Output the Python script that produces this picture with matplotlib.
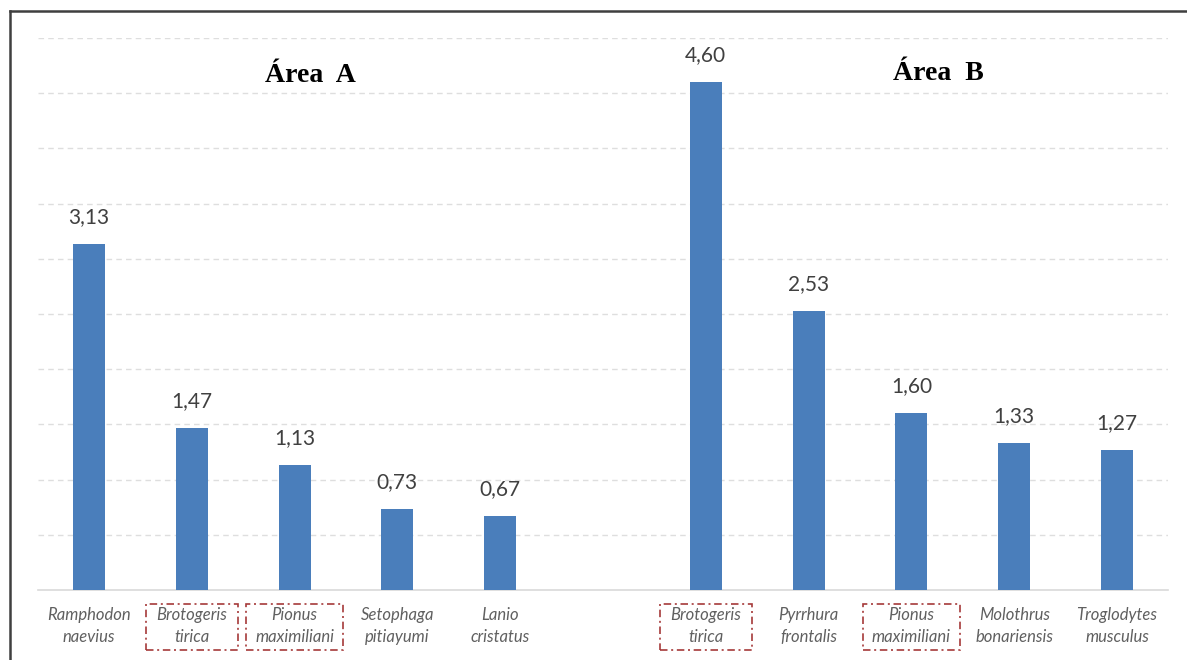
import matplotlib
matplotlib.use("Agg")
import matplotlib.pyplot as plt
import matplotlib.transforms as mtransforms
from matplotlib.patches import Rectangle
from matplotlib.lines import Line2D

# ---- data ----
area_a_species = ["Ramphodon\nnaevius", "Brotogeris\ntirica", "Pionus\nmaximiliani",
                  "Setophaga\npitiayumi", "Lanio\ncristatus"]
area_a_values = [3.13, 1.47, 1.13, 0.73, 0.67]
area_a_boxed = [False, True, True, False, False]

area_b_species = ["Brotogeris\ntirica", "Pyrrhura\nfrontalis", "Pionus\nmaximiliani",
                  "Molothrus\nbonariensis", "Troglodytes\nmusculus"]
area_b_values = [4.60, 2.53, 1.60, 1.33, 1.27]
area_b_boxed = [True, False, True, False, False]

titles = ["Área  A", "Área  B"]
y_ticks = [0.5, 1.0, 1.5, 2.0, 2.5, 3.0, 3.5, 4.0, 4.5, 5.0]

W, H = 1187, 660
fig = plt.figure(figsize=(W / 100, H / 100), dpi=100)
fig.patch.set_facecolor("white")

ax_left, ax_right, ax_bottom, ax_top = 37.6, 1168.4, 590, 38
ax = fig.add_axes([ax_left / W, 1 - ax_bottom / H, (ax_right - ax_left) / W, (ax_bottom - ax_top) / H])

xa = list(range(len(area_a_values)))
xb = [len(area_a_values) + 1 + i for i in range(len(area_b_values))]
xs = xa + xb
vals = area_a_values + area_b_values
names = area_a_species + area_b_species
boxed = area_a_boxed + area_b_boxed

bar_color = "#4a7ebb"
ax.bar(xs, vals, width=0.31, color=bar_color, zorder=3)

ax.set_xlim(-0.5, 10.5)
ax.set_ylim(0, 5.0)
ax.set_yticks(y_ticks)
ax.yaxis.grid(True, color="#dedede", linestyle=(0, (4, 3)), linewidth=1.0, zorder=0)
ax.set_axisbelow(True)
for s in ["left", "right", "top"]:
    ax.spines[s].set_visible(False)
ax.spines["bottom"].set_color("#d9d9d9")
ax.spines["bottom"].set_linewidth(1.2)
ax.tick_params(left=False, bottom=False, labelleft=False, labelbottom=False)
ax.set_facecolor("white")

# value labels
for x, v in zip(xs, vals):
    ax.annotate(f"{v:.2f}".replace(".", ","), xy=(x, v), xytext=(0, 19.5),
                textcoords="offset points", ha="center", va="center",
                fontsize=15, color="#404040", family=["Lato", "DejaVu Sans"])

# category labels (data x, figure y)
trans = mtransforms.blended_transform_factory(ax.transData, fig.transFigure)
for x, name, bx in zip(xs, names, boxed):
    l1, l2 = name.split("\n")
    ax.text(x, 1 - 615 / H, l1, transform=trans, ha="center", va="center",
            fontsize=12, style="italic", color="#606060", family=["Lato", "DejaVu Sans"])
    ax.text(x, 1 - 637 / H, l2, transform=trans, ha="center", va="center",
            fontsize=12, style="italic", color="#606060", family=["Lato", "DejaVu Sans"])
    if bx:
        wpx = 92 if l1.startswith("Brot") else 97
        wdata = wpx / 102.8
        rect = Rectangle((x - wdata / 2, 1 - 650 / H), wdata, 46 / H, transform=trans,
                         fill=False, edgecolor="#a53a3a", linewidth=1.2,
                         linestyle=(0, (4.5, 2.2, 1.2, 2.2)), clip_on=False)
        ax.add_patch(rect)

# titles
fig.text(310 / W, 1 - 75 / H, titles[0], ha="center", va="center", fontsize=20,
         fontweight="bold", family=["Liberation Serif", "DejaVu Serif"], color="black")
fig.text(938 / W, 1 - 73 / H, titles[1], ha="center", va="center", fontsize=20,
         fontweight="bold", family=["Liberation Serif", "DejaVu Serif"], color="black")

# outer frame (left and top)
fig.add_artist(Line2D([10 / W, 10 / W], [0, 1 - 11 / H], transform=fig.transFigure,
                      color="#3f3f3f", linewidth=1.8))
fig.add_artist(Line2D([10 / W, 1], [1 - 11 / H, 1 - 11 / H], transform=fig.transFigure,
                      color="#3f3f3f", linewidth=1.8))

fig.savefig("out.png", dpi=100, facecolor="white")
